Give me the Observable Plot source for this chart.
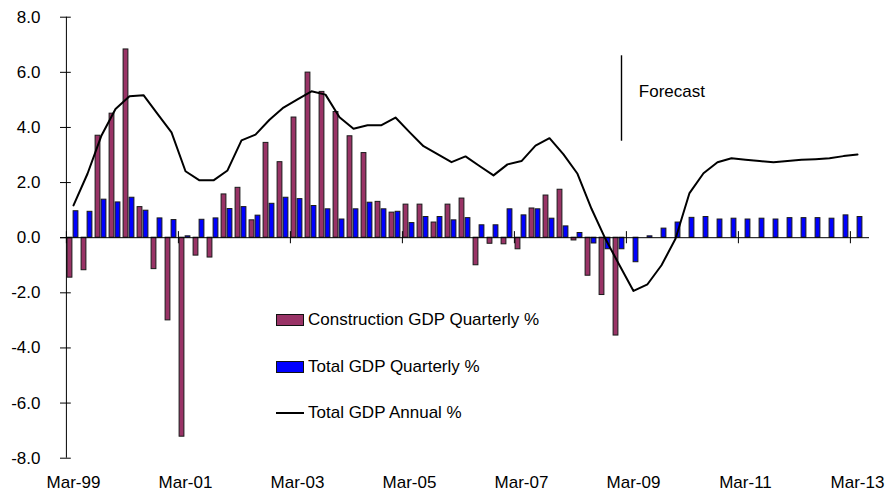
<!DOCTYPE html>
<html>
<head>
<meta charset="utf-8">
<script src="https://cdn.jsdelivr.net/npm/d3@7"></script>
<script src="https://cdn.jsdelivr.net/npm/@observablehq/plot@0.6"></script>
<style>
  body { margin: 0; background: #fff; }
  #wrap { position: relative; width: 890px; height: 491px; font-family: "Liberation Sans", Arial, sans-serif; }
  .leg { position: absolute; left: 276px; height: 20px; font-size: 17px; color: #000; display: flex; align-items: center; white-space: nowrap; }
  .sw { width: 28px; height: 12px; border: 1px solid #111; box-sizing: border-box; margin-right: 4px; }
  .ln { width: 28px; height: 0; border-top: 2px solid #000; margin-right: 4px; }
</style>
</head>
<body>
<div id="wrap">
  <div id="chart"></div>
  <div class="leg" style="top:309.5px"><div class="sw" style="background:#993366"></div>Construction GDP Quarterly %</div>
  <div class="leg" style="top:357px"><div class="sw" style="background:#0000ff"></div>Total GDP Quarterly %</div>
  <div class="leg" style="top:402.5px"><div class="ln"></div>Total GDP Annual %</div>
</div>
<script>
const quarters = [
  "Mar-99","Jun-99","Sep-99","Dec-99","Mar-00","Jun-00","Sep-00","Dec-00",
  "Mar-01","Jun-01","Sep-01","Dec-01","Mar-02","Jun-02","Sep-02","Dec-02",
  "Mar-03","Jun-03","Sep-03","Dec-03","Mar-04","Jun-04","Sep-04","Dec-04",
  "Mar-05","Jun-05","Sep-05","Dec-05","Mar-06","Jun-06","Sep-06","Dec-06",
  "Mar-07","Jun-07","Sep-07","Dec-07","Mar-08","Jun-08","Sep-08","Dec-08",
  "Mar-09","Jun-09","Sep-09","Dec-09","Mar-10","Jun-10","Sep-10","Dec-10",
  "Mar-11","Jun-11","Sep-11","Dec-11","Mar-12","Jun-12","Sep-12","Dec-12",
  "Mar-13"
];
const xTickLabels = ["Mar-99","Mar-01","Mar-03","Mar-05","Mar-07","Mar-09","Mar-11","Mar-13"];
const yTicks = [-8, -6, -4, -2, 0, 2, 4, 6, 8];

const constructionQ = [
  -1.45, -1.18, 3.70, 4.50, 6.83, 1.11, -1.14, -3.00,
  -7.22, -0.65, -0.72, 1.57, 1.81, 0.63, 3.44, 2.74,
  4.36, 5.99, 5.29, 4.56, 3.68, 3.07, 1.30, 0.91,
  1.20, 1.20, 0.55, 1.20, 1.42, -1.00, -0.22, -0.24,
  -0.42, 1.06, 1.53, 1.74, -0.10, -1.38, -2.08, -3.55
];
const totalQ = [
  0.96, 0.94, 1.38, 1.28, 1.45, 0.98, 0.70, 0.64,
  0.05, 0.65, 0.70, 1.04, 1.11, 0.80, 1.23, 1.45,
  1.40, 1.15, 1.03, 0.66, 1.03, 1.27, 1.03, 0.94,
  0.53, 0.75, 0.75, 0.63, 0.71, 0.45, 0.45, 1.03,
  0.81, 1.03, 0.69, 0.41, 0.17, -0.21, -0.42, -0.42,
  -0.89, 0.05, 0.33, 0.55, 0.72, 0.75, 0.66, 0.69,
  0.66, 0.69, 0.66, 0.71, 0.71, 0.71, 0.69, 0.81,
  0.75
];
const totalAnnual = [
  1.17, 2.32, 3.71, 4.67, 5.13, 5.17, 4.49, 3.82,
  2.41, 2.08, 2.08, 2.44, 3.53, 3.74, 4.28, 4.72,
  5.02, 5.31, 5.19, 4.37, 3.95, 4.08, 4.08, 4.36,
  3.83, 3.32, 3.03, 2.74, 2.95, 2.60, 2.26, 2.66,
  2.78, 3.34, 3.61, 3.02, 2.32, 1.05, -0.05, -1.00,
  -1.93, -1.69, -1.00, -0.04, 1.62, 2.34, 2.74, 2.88,
  2.83, 2.78, 2.74, 2.78, 2.83, 2.85, 2.88, 2.96,
  3.02
];
const forecastAfter = "Dec-08";
const forecastLabelAt = "Mar-09";
const forecastRuleRange = [3.5, 6.6];
const forecastLabelY = 5.3;

const cData = constructionQ.map((v, i) => ({q: quarters[i], v}));
const tData = totalQ.map((v, i) => ({q: quarters[i], v}));
const aData = totalAnnual.map((v, i) => ({q: quarters[i], v}));

const W = 890, H = 491;
const mL = 60, mR = 21, mT = 16.7, mB = 33.3;
const bw = (W - mL - mR) / quarters.length;

const chart = Plot.plot({
  width: W,
  height: H,
  marginLeft: mL,
  marginRight: mR,
  marginTop: mT,
  marginBottom: mB,
  style: {fontFamily: "'Liberation Sans', Arial, sans-serif", fontSize: "17px", color: "#000", background: "#fff"},
  x: {type: "band", domain: quarters, padding: 0, label: null},
  y: {domain: [-8, 8], label: null},
  marks: [
    Plot.barY(cData, {x: "q", y: "v", fill: "#993366", stroke: "#1a1a1a", strokeWidth: 1, insetLeft: 1.1, insetRight: bw - 6.1}),
    Plot.barY(tData, {x: "q", y: "v", fill: "#0000ff", stroke: "#1a1a1a", strokeWidth: 1, insetLeft: 7.1, insetRight: bw - 12.1}),
    Plot.ruleY([0], {stroke: "#000", strokeWidth: 1}),
    Plot.ruleX(xTickLabels, {x: d => d, y1: -0.22, y2: 0.22, dx: -bw / 2, stroke: "#000", strokeWidth: 1}),
    Plot.ruleX([quarters[0]], {x: d => d, y1: -8, y2: 8, dx: -bw / 2, stroke: "#000", strokeWidth: 1}),
    Plot.tickY(yTicks, {x: () => quarters[0], y: d => d, dx: -6, insetRight: bw - 11, stroke: "#000", strokeWidth: 1}),
    Plot.lineY(aData, {x: "q", y: "v", stroke: "#000", strokeWidth: 2}),
    Plot.ruleX([forecastAfter], {x: d => d, y1: forecastRuleRange[0], y2: forecastRuleRange[1], dx: 2, stroke: "#000", strokeWidth: 1.4}),
    Plot.text(["Forecast"], {x: () => forecastLabelAt, y: () => forecastLabelY, text: d => d, textAnchor: "start", dx: 5.3, fontSize: 17, fill: "#000"}),
    Plot.axisY({ticks: yTicks, tickFormat: d => d.toFixed(1), tickSize: 0, tickPadding: 20, fontSize: 17, label: null}),
    Plot.axisX({ticks: xTickLabels, tickSize: 0, tickPadding: 18, fontSize: 17, label: null})
  ]
});
document.getElementById("chart").appendChild(chart);
</script>
</body>
</html>
